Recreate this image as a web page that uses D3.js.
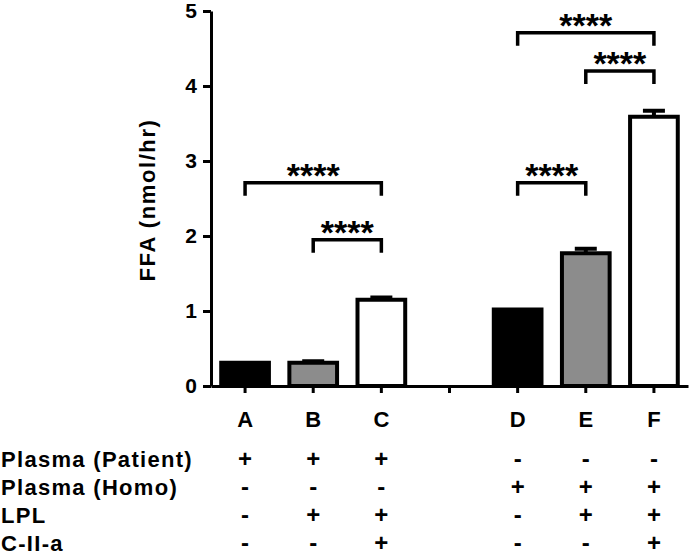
<!DOCTYPE html>
<html>
<head>
<meta charset="utf-8">
<script src="https://cdn.jsdelivr.net/npm/d3@7"></script>
<style>
  body { margin: 0; background: #fff; }
  text { font-family: "Liberation Sans", Arial, sans-serif; font-weight: bold; }
</style>
</head>
<body>
<div id="chart"></div>
<script>
// slots on the x axis ("gap" is the empty slot between the two groups)
const slots = ["A", "B", "C", "gap", "D", "E", "F"];
const groups = ["A", "B", "C", "D", "E", "F"];
const values = [0.31, 0.31, 1.15, 1.02, 1.77, 3.59];
const sems = [0, 0.02, 0.03, 0, 0.06, 0.08];
const fills = ["#000", "#8c8c8c", "#fff", "#000", "#8c8c8c", "#fff"];
const yTicks = [0, 1, 2, 3, 4, 5];

// significance brackets: from, to, height (data units)
const brackets = [
  { from: "A", to: "C", y: 2.71, label: "****" },
  { from: "B", to: "C", y: 1.95, label: "****" },
  { from: "D", to: "E", y: 2.71, label: "****" },
  { from: "E", to: "F", y: 4.2, label: "****" },
  { from: "D", to: "F", y: 4.71, label: "****" }
];

// treatment table below the chart
const rowLabels = ["Plasma (Patient)", "Plasma (Homo)", "LPL", "C-II-a"];
const rowSigns = [
  ["+", "+", "+", "-", "-", "-"],
  ["-", "-", "-", "+", "+", "+"],
  ["-", "+", "+", "-", "+", "+"],
  ["-", "-", "+", "-", "-", "+"]
];

const width = 694, height = 556;
const svg = d3.select("#chart").append("svg")
  .attr("width", width)
  .attr("height", height);

const x = d3.scaleBand().domain(slots).range([211, 688]).paddingInner(0).paddingOuter(0);
const y = d3.scaleLinear().domain([0, 5]).range([386, 11]);
const barW = x.bandwidth() * 0.7;
const cx = d => x(d) + x.bandwidth() / 2;

// bars
const bars = svg.append("g");
groups.forEach((g, i) => {
  const x0 = cx(g) - barW / 2;
  // error bar (upper only)
  if (sems[i] > 0) {
    bars.append("line")
      .attr("x1", cx(g)).attr("x2", cx(g))
      .attr("y1", y(values[i])).attr("y2", y(values[i] + sems[i]))
      .attr("stroke", "#000").attr("stroke-width", 4);
    bars.append("line")
      .attr("x1", cx(g) - 11).attr("x2", cx(g) + 11)
      .attr("y1", y(values[i] + sems[i])).attr("y2", y(values[i] + sems[i]))
      .attr("stroke", "#000").attr("stroke-width", 4);
  }
  bars.append("rect")
    .attr("x", x0)
    .attr("y", y(values[i]))
    .attr("width", barW)
    .attr("height", y(0) - y(values[i]))
    .attr("fill", fills[i])
    .attr("stroke", "#000")
    .attr("stroke-width", 4);
});

// axes
const yAxis = svg.append("g")
  .attr("transform", "translate(211,0)")
  .call(d3.axisLeft(y).tickValues(yTicks).tickFormat(d3.format("d")).tickSize(8).tickSizeOuter(0).tickPadding(6));
yAxis.selectAll("text").style("font-size", "21px").attr("fill", "#000");

const xAxis = svg.append("g")
  .attr("transform", "translate(0,386)")
  .call(d3.axisBottom(x).tickFormat(d => d === "gap" ? "" : d).tickSize(7).tickSizeOuter(0).tickPadding(18));
xAxis.selectAll("text").style("font-size", "22px").attr("fill", "#000");

svg.selectAll(".domain").attr("stroke", "#000").attr("stroke-width", 3);
svg.selectAll(".tick line").attr("stroke", "#000").attr("stroke-width", 3);

// y axis title
svg.append("text")
  .attr("transform", "translate(155,200) rotate(-90)")
  .attr("text-anchor", "middle")
  .style("font-size", "22px")
  .style("letter-spacing", "1.6px")
  .text("FFA (nmol/hr)");

// brackets
const br = svg.append("g");
brackets.forEach(b => {
  const x1 = cx(b.from), x2 = cx(b.to), yy = y(b.y);
  br.append("path")
    .attr("d", `M${x1},${yy + 13}V${yy}H${x2}V${yy + 13}`)
    .attr("fill", "none")
    .attr("stroke", "#000")
    .attr("stroke-width", 3.5);
  br.append("text")
    .attr("x", (x1 + x2) / 2)
    .attr("y", yy + 4)
    .attr("text-anchor", "middle")
    .style("font-size", "34px")
    .text(b.label);
});

// treatment table
const table = svg.append("g");
rowLabels.forEach((lab, r) => {
  const by = 467 + r * 28;
  table.append("text")
    .attr("x", 1)
    .attr("y", by)
    .style("font-size", "22px")
    .style("letter-spacing", "1.3px")
    .text(lab);
  groups.forEach((g, i) => {
    table.append("text")
      .attr("x", cx(g))
      .attr("y", by)
      .attr("text-anchor", "middle")
      .style("font-size", "24px")
      .text(rowSigns[r][i]);
  });
});
</script>
</body>
</html>
